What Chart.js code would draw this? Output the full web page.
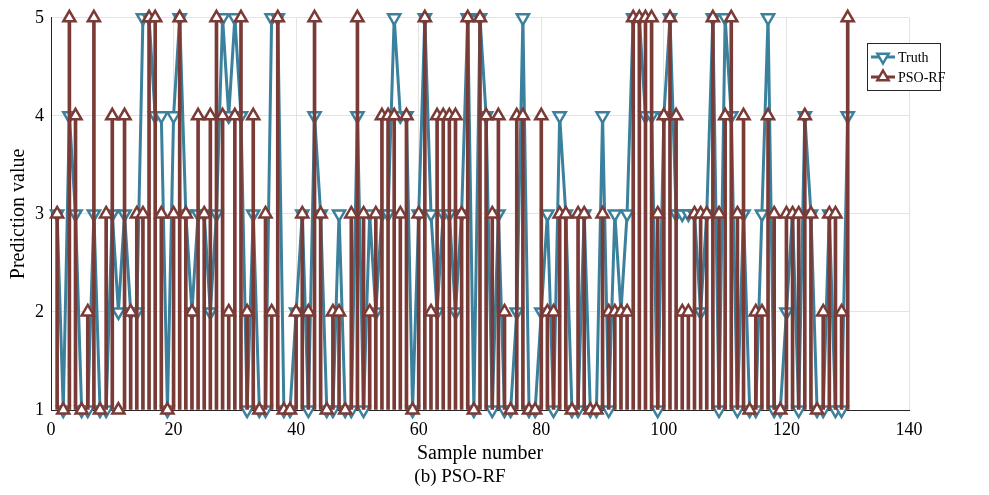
<!DOCTYPE html>
<html>
<head>
<meta charset="utf-8">
<script src="https://cdn.jsdelivr.net/npm/chart.js@4/dist/chart.umd.min.js"></script>
<style>
  body { margin: 0; background: #fff; }
</style>
</head>
<body>
<canvas id="chart" width="989" height="495"></canvas>
<script>
// sample index 1..130
const sampleNo = [];
for (let k = 1; k <= 130; k++) sampleNo.push(k);

const truth = [
  3,1,4,3,1,1,3,1,1,3,
  2,3,2,2,5,5,4,4,1,4,
  5,3,2,3,3,2,3,5,4,5,
  4,1,3,1,1,5,5,1,1,2,
  3,1,4,3,1,1,3,1,1,4,
  1,3,2,3,3,5,4,4,1,3,
  5,3,2,3,3,2,3,5,1,5,
  4,1,3,1,1,2,5,1,1,2,
  3,1,4,3,1,1,3,1,1,4,
  1,3,2,3,5,5,4,4,1,4,
  5,3,3,3,3,2,3,5,1,5,
  4,1,3,1,1,3,5,1,1,2,
  3,1,4,3,1,1,3,1,1,4
];

const psoRf = [
  3,1,5,4,1,2,5,1,3,4,
  1,4,2,3,3,5,5,3,1,3,
  5,3,2,4,3,4,5,4,2,4,
  5,2,4,1,3,2,5,1,1,2,
  3,2,5,3,1,2,2,1,3,5,
  3,2,3,4,4,4,3,4,1,3,
  5,2,4,4,4,4,3,5,1,5,
  4,3,4,2,1,4,4,1,1,4,
  2,2,3,3,1,3,3,1,1,3,
  2,2,2,2,5,5,5,5,3,4,
  5,4,2,2,3,3,3,5,3,4,
  5,3,4,1,2,2,4,3,1,3,
  3,3,4,3,1,2,3,3,2,5
];

const xTicks = [0, 20, 40, 60, 80, 100, 120, 140];
const yTicks = [1, 2, 3, 4, 5];

const blue = '#3b819d';
const red = '#7a3b37';
const serif = '"Liberation Serif", "Times New Roman", serif';

function toPoints(vals) {
  return vals.map((v, k) => ({ x: sampleNo[k], y: v }));
}

function tri(ctx, x, y, r, down) {
  const s = down ? -1 : 1;
  ctx.beginPath();
  ctx.moveTo(x, y - s * r);
  ctx.lineTo(x + r * 0.866, y + s * r * 0.5);
  ctx.lineTo(x - r * 0.866, y + s * r * 0.5);
  ctx.closePath();
  ctx.fill();
  ctx.stroke();
}

const extras = {
  id: 'extras',
  afterDraw(chart) {
    const ctx = chart.ctx;
    ctx.save();
    // legend
    ctx.fillStyle = '#fff';
    ctx.fillRect(867.5, 43.5, 73, 47);
    ctx.strokeStyle = '#262626';
    ctx.lineWidth = 1;
    ctx.strokeRect(867.5, 43.5, 73, 47);
    const rows = [
      { label: 'Truth', color: blue, down: true, y: 57 },
      { label: 'PSO-RF', color: red, down: false, y: 77 }
    ];
    rows.forEach(r => {
      ctx.strokeStyle = r.color;
      ctx.lineWidth = 3;
      ctx.beginPath();
      ctx.moveTo(871, r.y);
      ctx.lineTo(895, r.y);
      ctx.stroke();
      ctx.fillStyle = '#fff';
      ctx.lineWidth = 2.5;
      tri(ctx, 883, r.y, 6.5, r.down);
      ctx.fillStyle = '#000';
      ctx.font = '14px ' + serif;
      ctx.textAlign = 'left';
      ctx.textBaseline = 'middle';
      ctx.fillText(r.label, 898, r.y + 1);
    });
    // caption
    ctx.fillStyle = '#000';
    ctx.font = '19px ' + serif;
    ctx.textAlign = 'center';
    ctx.textBaseline = 'middle';
    ctx.fillText('(b) PSO-RF', 460, 477);
    ctx.restore();
  }
};

const ctx = document.getElementById('chart').getContext('2d');
const myChart = new Chart(ctx, {
  type: 'line',
  data: {
    datasets: [
      {
        // PSO-RF markers (top)
        label: 'PSO-RF',
        data: toPoints(psoRf),
        showLine: false,
        pointStyle: 'triangle',
        pointRadius: 7,
        pointBorderWidth: 2.5,
        pointBackgroundColor: '#fff',
        pointBorderColor: red,
        clip: false,
        order: 0
      },
      {
        // PSO-RF stems
        type: 'bar',
        label: 'PSO-RF stems',
        data: toPoints(psoRf),
        base: 1,
        grouped: false,
        barThickness: 3,
        backgroundColor: red,
        borderWidth: 0,
        order: 1
      },
      {
        label: 'Truth',
        data: toPoints(truth),
        borderColor: blue,
        backgroundColor: '#fff',
        borderWidth: 3,
        pointStyle: 'triangle',
        rotation: 180,
        pointRadius: 7,
        pointBorderWidth: 2.5,
        pointBackgroundColor: '#fff',
        pointBorderColor: blue,
        tension: 0,
        clip: false,
        order: 2
      }
    ]
  },
  options: {
    responsive: false,
    animation: false,
    devicePixelRatio: 1,
    layout: { padding: { top: 17, right: 80, left: 0, bottom: 0 } },
    plugins: {
      legend: { display: false },
      tooltip: { enabled: false }
    },
    scales: {
      x: {
        type: 'linear',
        min: 0,
        max: 140,
        offset: false,
        afterBuildTicks: s => { s.ticks = xTicks.map(v => ({ value: v })); },
        afterFit: s => { s.height = 85; },
        grid: { color: '#e3e3e3', lineWidth: 1, drawTicks: false, offset: false },
        border: { color: '#262626', width: 1 },
        ticks: { color: '#000', padding: 9, font: { family: serif, size: 18 } },
        title: {
          display: true,
          text: 'Sample number',
          color: '#000',
          font: { family: serif, size: 20 },
          padding: { top: 0, bottom: 29 }
        }
      },
      y: {
        type: 'linear',
        min: 1,
        max: 5,
        afterBuildTicks: s => { s.ticks = yTicks.map(v => ({ value: v })); },
        afterFit: s => { s.width = 51; },
        grid: { color: '#e3e3e3', lineWidth: 1, drawTicks: false },
        border: { color: '#262626', width: 1 },
        ticks: { color: '#000', padding: 7, font: { family: serif, size: 18 } },
        title: {
          display: true,
          text: 'Prediction value',
          color: '#000',
          font: { family: serif, size: 20 },
          padding: { top: 7, bottom: 0 }
        }
      }
    }
  },
  plugins: [extras]
});
</script>
</body>
</html>
